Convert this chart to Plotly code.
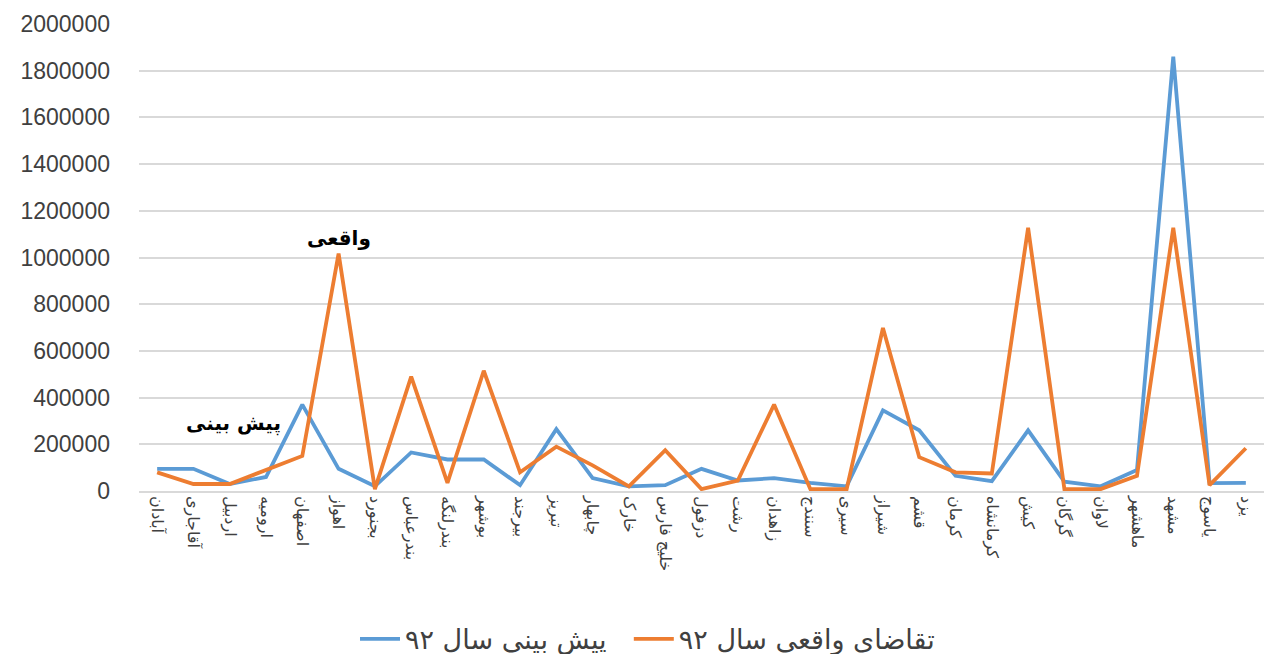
import plotly.graph_objects as go

cities = ["آبادان", "آقاجاری", "اردبیل", "ارومیه", "اصفهان", "اهواز", "بجنورد", "بندرعباس",
          "بندرلنگه", "بوشهر", "بیرجند", "تبریز", "چابهار", "خارک", "خلیج فارس", "دزفول",
          "رشت", "زاهدان", "سنندج", "سیری", "شیراز", "قشم", "کرمان", "کرمانشاه", "کیش",
          "گرگان", "لاوان", "ماهشهر", "مشهد", "یاسوج", "یزد"]

forecast_92 = [95000, 95000, 30000, 60000, 370000, 95000, 20000, 165000,
               135000, 135000, 25000, 265000, 55000, 20000, 25000, 95000,
               45000, 55000, 35000, 20000, 345000, 260000, 65000, 42000, 260000,
               40000, 20000, 90000, 1860000, 34000, 35000]

actual_92 = [80000, 30000, 30000, 90000, 150000, 1017000, 8000, 490000,
             35000, 515000, 80000, 190000, 110000, 20000, 175000, 8000,
             45000, 370000, 8000, 8000, 698000, 145000, 80000, 75000, 1127000,
             8000, 8000, 65000, 1127000, 25000, 183000]

y_ticks = [0, 200000, 400000, 600000, 800000, 1000000, 1200000, 1400000, 1600000, 1800000, 2000000]

name_forecast = "پیش بینی سال ۹۲"
name_actual = "تقاضای واقعی سال ۹۲"

fig = go.Figure()
fig.add_trace(go.Scatter(x=list(range(len(cities))), y=forecast_92, mode="lines",
                         name=name_forecast + "\u00a0\u00a0", line=dict(color="#5B9BD5", width=3.8)))
fig.add_trace(go.Scatter(x=list(range(len(cities))), y=actual_92, mode="lines",
                         name=name_actual, line=dict(color="#ED7D31", width=3.8)))

fig.add_annotation(x=5.0, y=1085000, text="<b>واقعی</b>", showarrow=False,
                   font=dict(family="DejaVu Sans", size=20, color="#000000"))
fig.add_annotation(x=2.1, y=289000, text="<b>پیش بینی</b>", showarrow=False,
                   font=dict(family="DejaVu Sans", size=20, color="#000000"))

fig.update_layout(
    width=1256, height=646,
    margin=dict(l=131, r=0, t=16, b=163, autoexpand=False),
    plot_bgcolor="white", paper_bgcolor="white",
    showlegend=True,
    legend=dict(orientation="h", x=0.452, xanchor="center", y=-0.265, yanchor="top",
                font=dict(family="DejaVu Sans", size=27, color="#404040"),
                itemwidth=40, tracegroupgap=0),
    xaxis=dict(range=[-0.5, len(cities) - 0.5], tickmode="array",
               tickvals=list(range(len(cities))), ticktext=cities, tickangle=90,
               showgrid=False, showline=True, linecolor="#D9D9D9", linewidth=1.5,
               zeroline=False, automargin=False,
               tickfont=dict(family="DejaVu Sans", size=16, color="#404040")),
    yaxis=dict(range=[0, 2000000], tickmode="array", tickvals=y_ticks,
               ticktext=[str(v) for v in y_ticks], automargin=False,
               showgrid=True, gridcolor="#D9D9D9", gridwidth=1.5,
               zeroline=False, showline=False, ticks="", ticklabelstandoff=28,
               tickfont=dict(family="Liberation Sans", size=23, color="#404040")),
)

fig.write_html("out.html")
